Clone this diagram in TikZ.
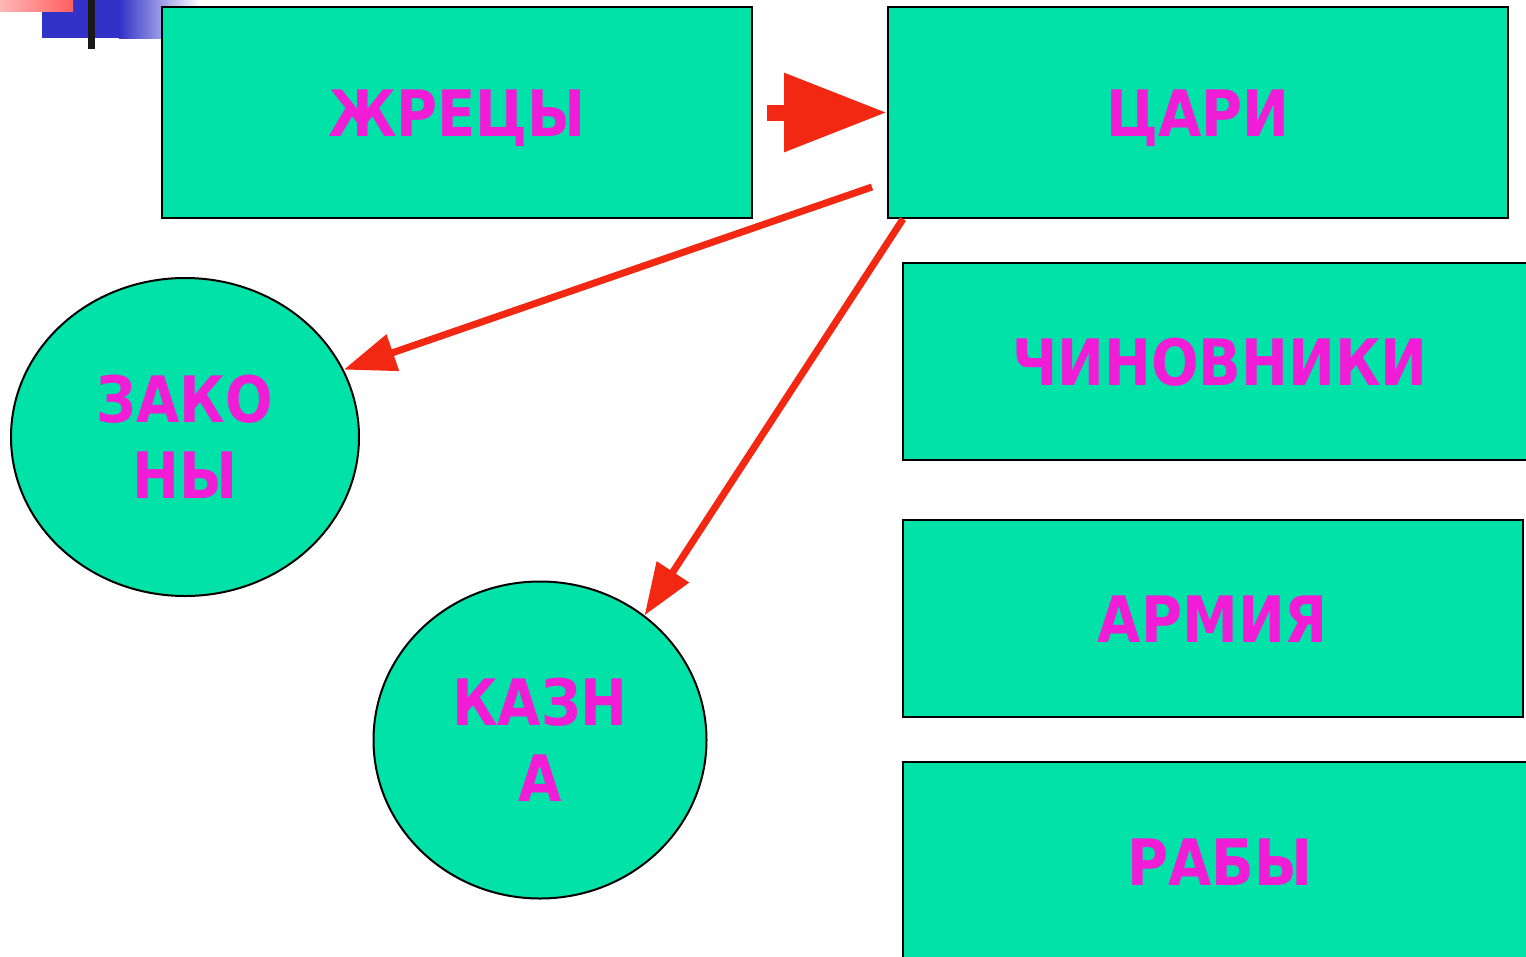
\documentclass[tikz,border=0pt]{standalone}
\usepackage{fontspec}
\setmainfont{DejaVu Sans}[FakeStretch=0.875]
\usepackage{tikz}
\usetikzlibrary{shapes.geometric,arrows.meta}
\definecolor{slideGreen}{RGB}{0,226,168}
\definecolor{slideMagenta}{RGB}{240,28,214}
\definecolor{slideRed}{RGB}{242,40,18}
\definecolor{slideBlue}{RGB}{50,50,200}
\definecolor{slidePink}{RGB}{255,95,95}

\begin{document}
\begin{tikzpicture}[x=1pt,y=-1pt,text=slideMagenta,
		font=\fontsize{64}{76}\selectfont\bfseries]
		\useasboundingbox (0,0) rectangle (1526,956);
		
		% Corner marks
		\fill[slideBlue] (42,0) rectangle (119,38);
		\shade[left color=slideBlue, right color=white] (119,0) rectangle (200,38);
		\shade[left color=slidePink!45, right color=slidePink] (0,0) rectangle (73,11);
		\fill[black!90] (88,0) rectangle (95,49);
		
		% Boxes
		\begin{scope}[every node/.style={rectangle,draw=black,line width=2pt,fill=slideGreen,inner sep=0pt,text height=47pt,text depth=0pt}]
			\node (zhretsy) at (457,112.5) [minimum width=590pt, minimum height=211pt] {ЖРЕЦЫ};
			\node (tsari) at (1198,112.5) [minimum width=620pt, minimum height=211pt] {ЦАРИ};
			\node (chinovniki) at (1220,361.5) [minimum width=634pt, minimum height=197pt] {ЧИНОВНИКИ};
			\node (armiya) at (1213,618.5) [minimum width=620pt, minimum height=197pt] {АРМИЯ};
			\node (raby) at (1220,862) [minimum width=634pt, minimum height=200pt] {РАБЫ};
		\end{scope}
		
		% Circles
		\begin{scope}[every node/.style={ellipse,draw=black,line width=2pt,fill=slideGreen,inner sep=0pt,align=center}]
			\node (zakony) at (185,437) [minimum width=348pt, minimum height=318pt] {ЗАКО\\НЫ};
			\node (kazna) at (540,740) [minimum width=333pt, minimum height=317pt] {КАЗН\\А};
		\end{scope}
		
		% Arrows
		\coordinate (blockstart) at (767,112.5);
		\coordinate (lawstart) at (872,187);
		\coordinate (treasurystart) at (903,219);
		\begin{scope}[every edge/.style={draw=slideRed}]
			\path [-{Triangle[length=103pt,width=75pt]}, line width=16pt, slideRed] (blockstart) edge (tsari.west);
			\path [-{Triangle[length=52pt,width=37pt]}, line width=7pt, slideRed] (lawstart) edge (zakony.23);
			\path [-{Triangle[length=52pt,width=37pt]}, line width=7pt, slideRed] (treasurystart) edge (kazna.50);
		\end{scope}
		
	\end{tikzpicture}
\end{document}
